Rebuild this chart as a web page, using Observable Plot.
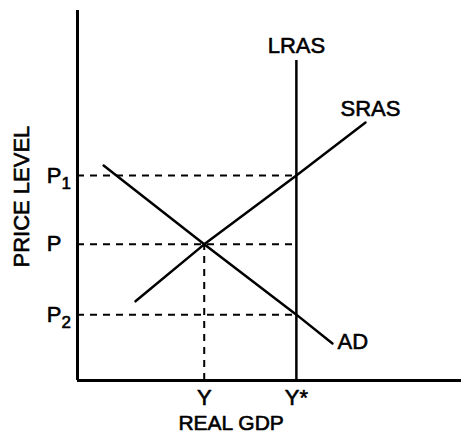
<!DOCTYPE html>
<html>
<head>
<meta charset="utf-8">
<script src="https://cdn.jsdelivr.net/npm/d3@7"></script>
<script src="https://cdn.jsdelivr.net/npm/@observablehq/plot@0.6"></script>
<style>
  html, body { margin: 0; padding: 0; background: #fff; }
  svg { display: block; }
</style>
</head>
<body>
<div id="chart"></div>
<script>
// Abstract units (0–100)
const xTickValues = [33, 57];
const xTickLabels = ["Y", "Y*"];
const yTickValues = [55.4, 36.8, 17.8];
const yTickBase = ["P", "P", "P"];
const yTickSub = ["1", "", "2"];

const sras = [{x: 15.1, y: 21.4}, {x: 33, y: 36.8}, {x: 57, y: 55.4}, {x: 75, y: 69.7}];
const ad = [{x: 6.8, y: 58.1}, {x: 33, y: 36.8}, {x: 57, y: 17.8}, {x: 66.4, y: 10}];
const lrasX = 57;
const lrasTop = 86.5;

const curveLabels = [
  {x: 57, y: 90.5, text: "LRAS", anchor: "middle"},
  {x: 76.3, y: 73.5, text: "SRAS", anchor: "middle"},
  {x: 67.7, y: 10.3, text: "AD", anchor: "start"}
];
const xAxisTitle = "REAL GDP";
const yAxisTitle = "PRICE LEVEL";

const font = "'Liberation Sans', Arial, Helvetica, sans-serif";
const ink = {fill: "#000", stroke: "#000", strokeWidth: 0.6};

const yTicks = yTickValues.map((v, i) => ({y: v, base: yTickBase[i], sub: yTickSub[i]}));
const xTicks = xTickValues.map((v, i) => ({x: v, label: xTickLabels[i]}));

const chart = Plot.plot({
  width: 461,
  height: 436,
  marginLeft: 77,
  marginRight: 0,
  marginTop: 10,
  marginBottom: 56,
  x: {domain: [0, 100], axis: null},
  y: {domain: [0, 100], axis: null},
  style: {fontFamily: font, background: "#fff", color: "#000"},
  marks: [
    // dashed guide lines
    Plot.ruleY(yTickValues, {x1: 0, x2: lrasX, stroke: "#000", strokeWidth: 2, strokeDasharray: "7,6"}),
    Plot.ruleX([xTickValues[0]], {y1: 0, y2: yTickValues[1], stroke: "#000", strokeWidth: 2, strokeDasharray: "7,6"}),
    // curves
    Plot.line(sras, {x: "x", y: "y", stroke: "#000", strokeWidth: 2.5}),
    Plot.line(ad, {x: "x", y: "y", stroke: "#000", strokeWidth: 2.5}),
    Plot.ruleX([lrasX], {y1: 0, y2: lrasTop, stroke: "#000", strokeWidth: 2.5}),
    // axes
    Plot.ruleX([0], {y1: 0, y2: 100, stroke: "#000", strokeWidth: 3}),
    Plot.ruleY([0], {x1: 0, x2: 100, stroke: "#000", strokeWidth: 3}),
    // tick labels
    Plot.text(yTicks, {x: 0, y: "y", text: "base", textAnchor: "end", dx: -16, fontSize: 22, ...ink}),
    Plot.text(yTicks, {x: 0, y: "y", text: "sub", textAnchor: "start", dx: -16, dy: 8, fontSize: 17, ...ink}),
    Plot.text(xTicks, {x: "x", y: 0, text: "label", dy: 17, fontSize: 22, ...ink}),
    // curve labels
    Plot.text(curveLabels.filter(d => d.anchor === "middle"), {x: "x", y: "y", text: "text", textAnchor: "middle", fontSize: 22, ...ink}),
    Plot.text(curveLabels.filter(d => d.anchor === "start"), {x: "x", y: "y", text: "text", textAnchor: "start", fontSize: 22, ...ink}),
    // axis titles
    Plot.text([xAxisTitle], {x: 40, y: 0, text: d => d, dy: 43, fontSize: 21, ...ink}),
    Plot.text([yAxisTitle], {x: 0, y: 49.7, text: d => d, dx: -56, rotate: -90, fontSize: 22, ...ink})
  ]
});
document.getElementById("chart").appendChild(chart);
</script>
</body>
</html>
